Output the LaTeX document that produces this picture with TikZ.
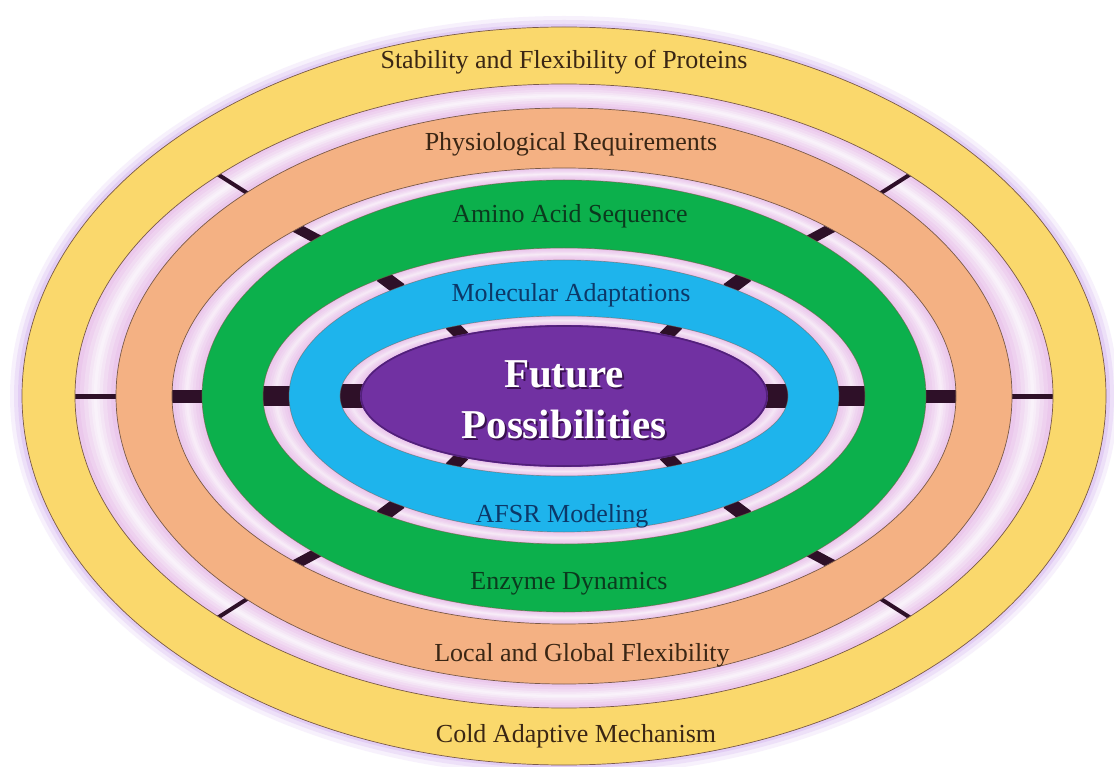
\documentclass[tikz,border=0pt]{standalone}
\usepackage{fontspec}
\setmainfont{Liberation Serif}
\usetikzlibrary{calc}
\definecolor{ringyellow}{HTML}{FAD86C}
\definecolor{ringorange}{HTML}{F4B183}
\definecolor{ringgreen}{HTML}{0CB04C}
\definecolor{ringblue}{HTML}{1EB4EC}
\definecolor{corepurple}{HTML}{7131A2}
\definecolor{coreedge}{HTML}{52207A}
\definecolor{gappink}{HTML}{EBC8EC}
\definecolor{tickdark}{HTML}{2E1028}
\definecolor{edgebrown}{HTML}{7A5A48}
\definecolor{glowc}{HTML}{D8BCF2}
\definecolor{txtbrown}{HTML}{3A2614}
\definecolor{txtgreen}{HTML}{0B3A1E}
\definecolor{txtblue}{HTML}{0C3868}
\definecolor{shadowc}{HTML}{3A1050}
\tikzset{
  edgeline/.style={draw=edgebrown, line width=0.7pt},
  lab/.style={font=\fontsize{26}{31}\selectfont, anchor=base, inner sep=0pt},
  corelab/.style={font=\fontsize{41}{48}\selectfont\bfseries, anchor=base, inner sep=0pt},
  tickmark/.style={draw=tickdark, line cap=butt}
}
\begin{document}
\begin{tikzpicture}[x=1pt,y=-1pt]
\useasboundingbox (0,0) rectangle (1114,767);
\fill[white] (0,0) rectangle (1114,767);
\coordinate (c) at (564,396);
% glow
\fill[glowc, opacity=0.2] (c) ellipse [x radius=554pt, y radius=380pt];
\fill[glowc, opacity=0.3] (c) ellipse [x radius=550pt, y radius=376pt];
\fill[glowc, opacity=0.5] (c) ellipse [x radius=546pt, y radius=372pt];
% gap background
\fill[gappink] (c) ellipse [x radius=542pt, y radius=369pt];
% gap highlights
\foreach \ai/\bi/\ao/\bo/\op in {448/288/489/312/1.0, 362/216/392/228/0.8, 275/136/301/148/0.7, 204/71/224/80/0.6}{
  \foreach \fa/\fb/\fo in {0.12/0.88/0.18, 0.22/0.78/0.22, 0.32/0.68/0.28, 0.40/0.60/0.32, 0.46/0.54/0.3}{
    \pgfmathsetmacro\xa{\ai+\fa*(\ao-\ai)}
    \pgfmathsetmacro\ya{\bi+\fa*(\bo-\bi)}
    \pgfmathsetmacro\xb{\ai+\fb*(\ao-\ai)}
    \pgfmathsetmacro\yb{\bi+\fb*(\bo-\bi)}
    \pgfmathsetmacro\oo{\fo*\op}
    \fill[white, opacity=\oo, even odd rule] (c) ellipse [x radius=\xb pt, y radius=\yb pt] (c) ellipse [x radius=\xa pt, y radius=\ya pt];
  }
}
% ticks: gap 1
\foreach \ang/\w in {0/5,45/4,135/4,180/5,225/4,315/4}{
  \draw[tickmark, line width=\w pt] ($(c)+({445*cos(\ang)},{-285*sin(\ang)})$) -- ($(c)+({492*cos(\ang)},{-315*sin(\ang)})$);
}
% ticks: gap 2
\foreach \ang/\w in {0/13,47/10,133/10,180/13,227/10,313/10}{
  \draw[tickmark, line width=\w pt] ($(c)+({359*cos(\ang)},{-213*sin(\ang)})$) -- ($(c)+({395*cos(\ang)},{-231*sin(\ang)})$);
}
% ticks: gap 3
\foreach \ang/\w in {0/20,53/14,127/14,180/20,233/14,307/14}{
  \draw[tickmark, line width=\w pt] ($(c)+({272*cos(\ang)},{-133*sin(\ang)})$) -- ($(c)+({304*cos(\ang)},{-151*sin(\ang)})$);
}
% ticks: gap 4
\foreach \ang/\w in {0/24,60/13,120/13,180/24,240/13,300/13}{
  \draw[tickmark, line width=\w pt] ($(c)+({201*cos(\ang)},{-68*sin(\ang)})$) -- ($(c)+({227*cos(\ang)},{-83*sin(\ang)})$);
}
% rings
\fill[ringyellow, even odd rule] (c) ellipse [x radius=542pt, y radius=369pt] (c) ellipse [x radius=489pt, y radius=312pt];
\draw[edgeline] (c) ellipse [x radius=542pt, y radius=369pt];
\draw[edgeline] (c) ellipse [x radius=489pt, y radius=312pt];
\fill[ringorange, even odd rule] (c) ellipse [x radius=448pt, y radius=288pt] (c) ellipse [x radius=392pt, y radius=228pt];
\draw[edgeline] (c) ellipse [x radius=448pt, y radius=288pt];
\draw[edgeline] (c) ellipse [x radius=392pt, y radius=228pt];
\fill[ringgreen, even odd rule] (c) ellipse [x radius=362pt, y radius=216pt] (c) ellipse [x radius=301pt, y radius=148pt];
\draw[edgeline, draw opacity=0.6] (c) ellipse [x radius=362pt, y radius=216pt];
\draw[edgeline, draw opacity=0.6] (c) ellipse [x radius=301pt, y radius=148pt];
\fill[ringblue, even odd rule] (c) ellipse [x radius=275pt, y radius=136pt] (c) ellipse [x radius=224pt, y radius=80pt];
\draw[edgeline, draw opacity=0.5] (c) ellipse [x radius=275pt, y radius=136pt];
\draw[edgeline, draw opacity=0.5] (c) ellipse [x radius=224pt, y radius=80pt];
% core
\fill[corepurple] (c) ellipse [x radius=204pt, y radius=71pt];
\draw[coreedge, line width=1.6pt] (c) ellipse [x radius=203pt, y radius=70pt];
% labels
\node[lab, text=txtbrown] (l1) at (564,69) {Stability and Flexibility of Proteins};
\node[lab, text=txtbrown] (l2) at (571,151) {Physiological Requirements};
\node[lab, text=txtgreen] (l3) at (570,223) {Amino Acid Sequence};
\node[lab, text=txtblue] (l4) at (571,302) {Molecular Adaptations};
\node[corelab, text=shadowc] (f1s) at (566,389) {Future};
\node[corelab, text=shadowc] (f2s) at (566,440) {Possibilities};
\node[corelab, text=white] (f1) at (564,387) {Future};
\node[corelab, text=white] (f2) at (564,438) {Possibilities};
\node[lab, text=txtblue] (l5) at (562,522) {AFSR Modeling};
\node[lab, text=txtgreen] (l6) at (569,589) {Enzyme Dynamics};
\node[lab, text=txtbrown] (l7) at (582,661) {Local and Global Flexibility};
\node[lab, text=txtbrown] (l8) at (576,742) {Cold Adaptive Mechanism};
\end{tikzpicture}
\end{document}
